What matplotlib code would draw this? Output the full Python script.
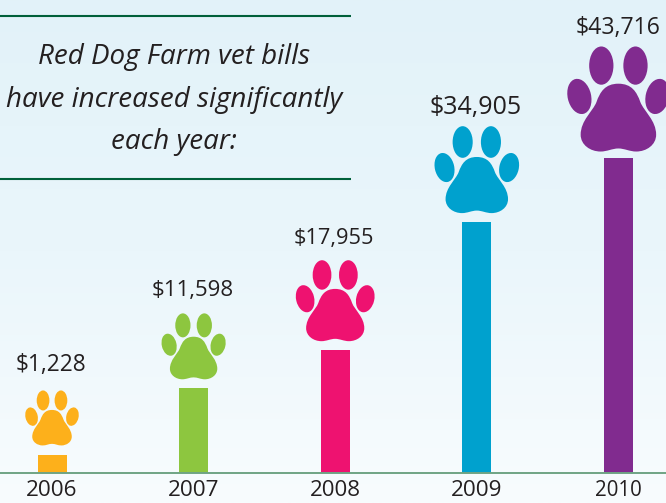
import matplotlib
matplotlib.use('Agg')
import matplotlib.pyplot as plt
from matplotlib.patches import PathPatch
from matplotlib.path import Path
from matplotlib.transforms import Affine2D
import numpy as np

years = ["2006", "2007", "2008", "2009", "2010"]
labels = ["$1,228", "$11,598", "$17,955", "$34,905", "$43,716"]
# bars in the picture are not strictly to scale, so these are read off the bars
bar_heights = [2370, 11700, 17000, 34800, 43716]
colors = ["#FDB01B", "#8DC63F", "#EE1270", "#00A1CE", "#812B8F"]
paw_radius = [26.7, 32, 39.3, 42.2, 51]
paw_gap = [37.5, 42, 49.5, 52.5, 59]
label_gap = [90, 98, 112, 115, 130]
label_size = [16.4, 16, 15.7, 18, 16.6]
year_size = [16.2, 16.2, 16, 16.2, 14.8]
title_lines = ["Red Dog Farm vet bills", "have increased significantly", "each year:"]

W, H = 666, 503
base_px = 472.5
FONT = "Open Sans"
TEXT = "#231F20"

fig = plt.figure(figsize=(W / 100, H / 100), dpi=100)

# background gradient
bg = fig.add_axes([0, 0, 1, 1], zorder=0)
grad = np.linspace(0, 1, 256).reshape(-1, 1)
cmap = matplotlib.colors.LinearSegmentedColormap.from_list("bg", ["#E2F2F9", "#EAF6FB", "#F8FCFE"])
bg.imshow(grad, aspect="auto", cmap=cmap, extent=[0, W, H, 0])
bg.set_axis_off()

ax = fig.add_axes([0, (H - base_px) / H, 1, base_px / H], zorder=1)
ax.patch.set_alpha(0)
px_per_value = 314.5 / 43716
ax.set_ylim(0, base_px / px_per_value)
ax.set_xlim(-52 / 141.6, (W - 52) / 141.6)

x = np.arange(len(years))
ax.bar(x, bar_heights, width=29 / 141.6, color=colors)

ax.set_xticks(x)
ax.set_xticklabels(years, fontfamily=FONT, color=TEXT)
for tl, sz in zip(ax.get_xticklabels(), year_size):
    tl.set_fontsize(sz)
ax.tick_params(axis="x", length=0, pad=5.6)
ax.yaxis.set_visible(False)
for s in ["top", "left", "right"]:
    ax.spines[s].set_visible(False)
ax.spines["bottom"].set_color("#6FA484")
ax.spines["bottom"].set_linewidth(1.4)


def ellipse(cx, cy, rx, ry, angle=0):
    c = Path.unit_circle()
    t = Affine2D().scale(rx, ry).rotate_deg(angle).translate(cx, cy)
    return c.transformed(t)


def paw_path():
    v = [(0, .30),
         (.26, .30), (.36, .14), (.43, -.06),
         (.50, -.24), (.74, -.42), (.74, -.70),
         (.74, -.90), (.55, -1.03), (.35, -1.03),
         (.22, -1.03), (.12, -.97), (0, -.97),
         (-.12, -.97), (-.22, -1.03), (-.35, -1.03),
         (-.55, -1.03), (-.74, -.90), (-.74, -.70),
         (-.74, -.42), (-.50, -.24), (-.43, -.06),
         (-.36, .14), (-.26, .30), (0, .30),
         (0, .30)]
    codes = [Path.MOVETO] + [Path.CURVE4] * 24 + [Path.CLOSEPOLY]
    pad = Path(v, codes)
    toes = [ellipse(-.335, .655, .238, .375),
            ellipse(.335, .655, .238, .375),
            ellipse(-.765, .05, .23, .35, 13),
            ellipse(.765, .05, .23, .35, -13)]
    return Path.make_compound_path(pad, *toes)


paw = paw_path()
fig.canvas.draw()
for i in range(len(years)):
    cx, cy = ax.transData.transform((x[i], bar_heights[i]))
    t = Affine2D().scale(paw_radius[i]).translate(cx, cy + paw_gap[i])
    ax.add_patch(PathPatch(paw, facecolor=colors[i], edgecolor="none", transform=t, clip_on=False))
    ax.annotate(labels[i], (x[i], bar_heights[i]), xytext=(-0.6, label_gap[i] * 0.72),
                textcoords="offset points", ha="center", va="center",
                fontfamily=FONT, fontsize=label_size[i], color=TEXT, annotation_clip=False)

# rules and caption sit on the full figure in pixel coordinates
over = fig.add_axes([0, 0, 1, 1], zorder=2)
over.set_xlim(0, W)
over.set_ylim(H, 0)
over.set_axis_off()
over.patch.set_alpha(0)
over.plot([0, 351], [15.7, 15.7], color="#00603A", lw=1.5, solid_capstyle="butt")
over.plot([0, 351], [178.5, 178.5], color="#00603A", lw=1.5, solid_capstyle="butt")
for line, yy in zip(title_lines, [57, 100, 142]):
    over.text(174, yy, line, ha="center", va="center", fontfamily=FONT,
              fontstyle="italic", fontsize=20, color=TEXT)

fig.savefig("out.png", dpi=100)
